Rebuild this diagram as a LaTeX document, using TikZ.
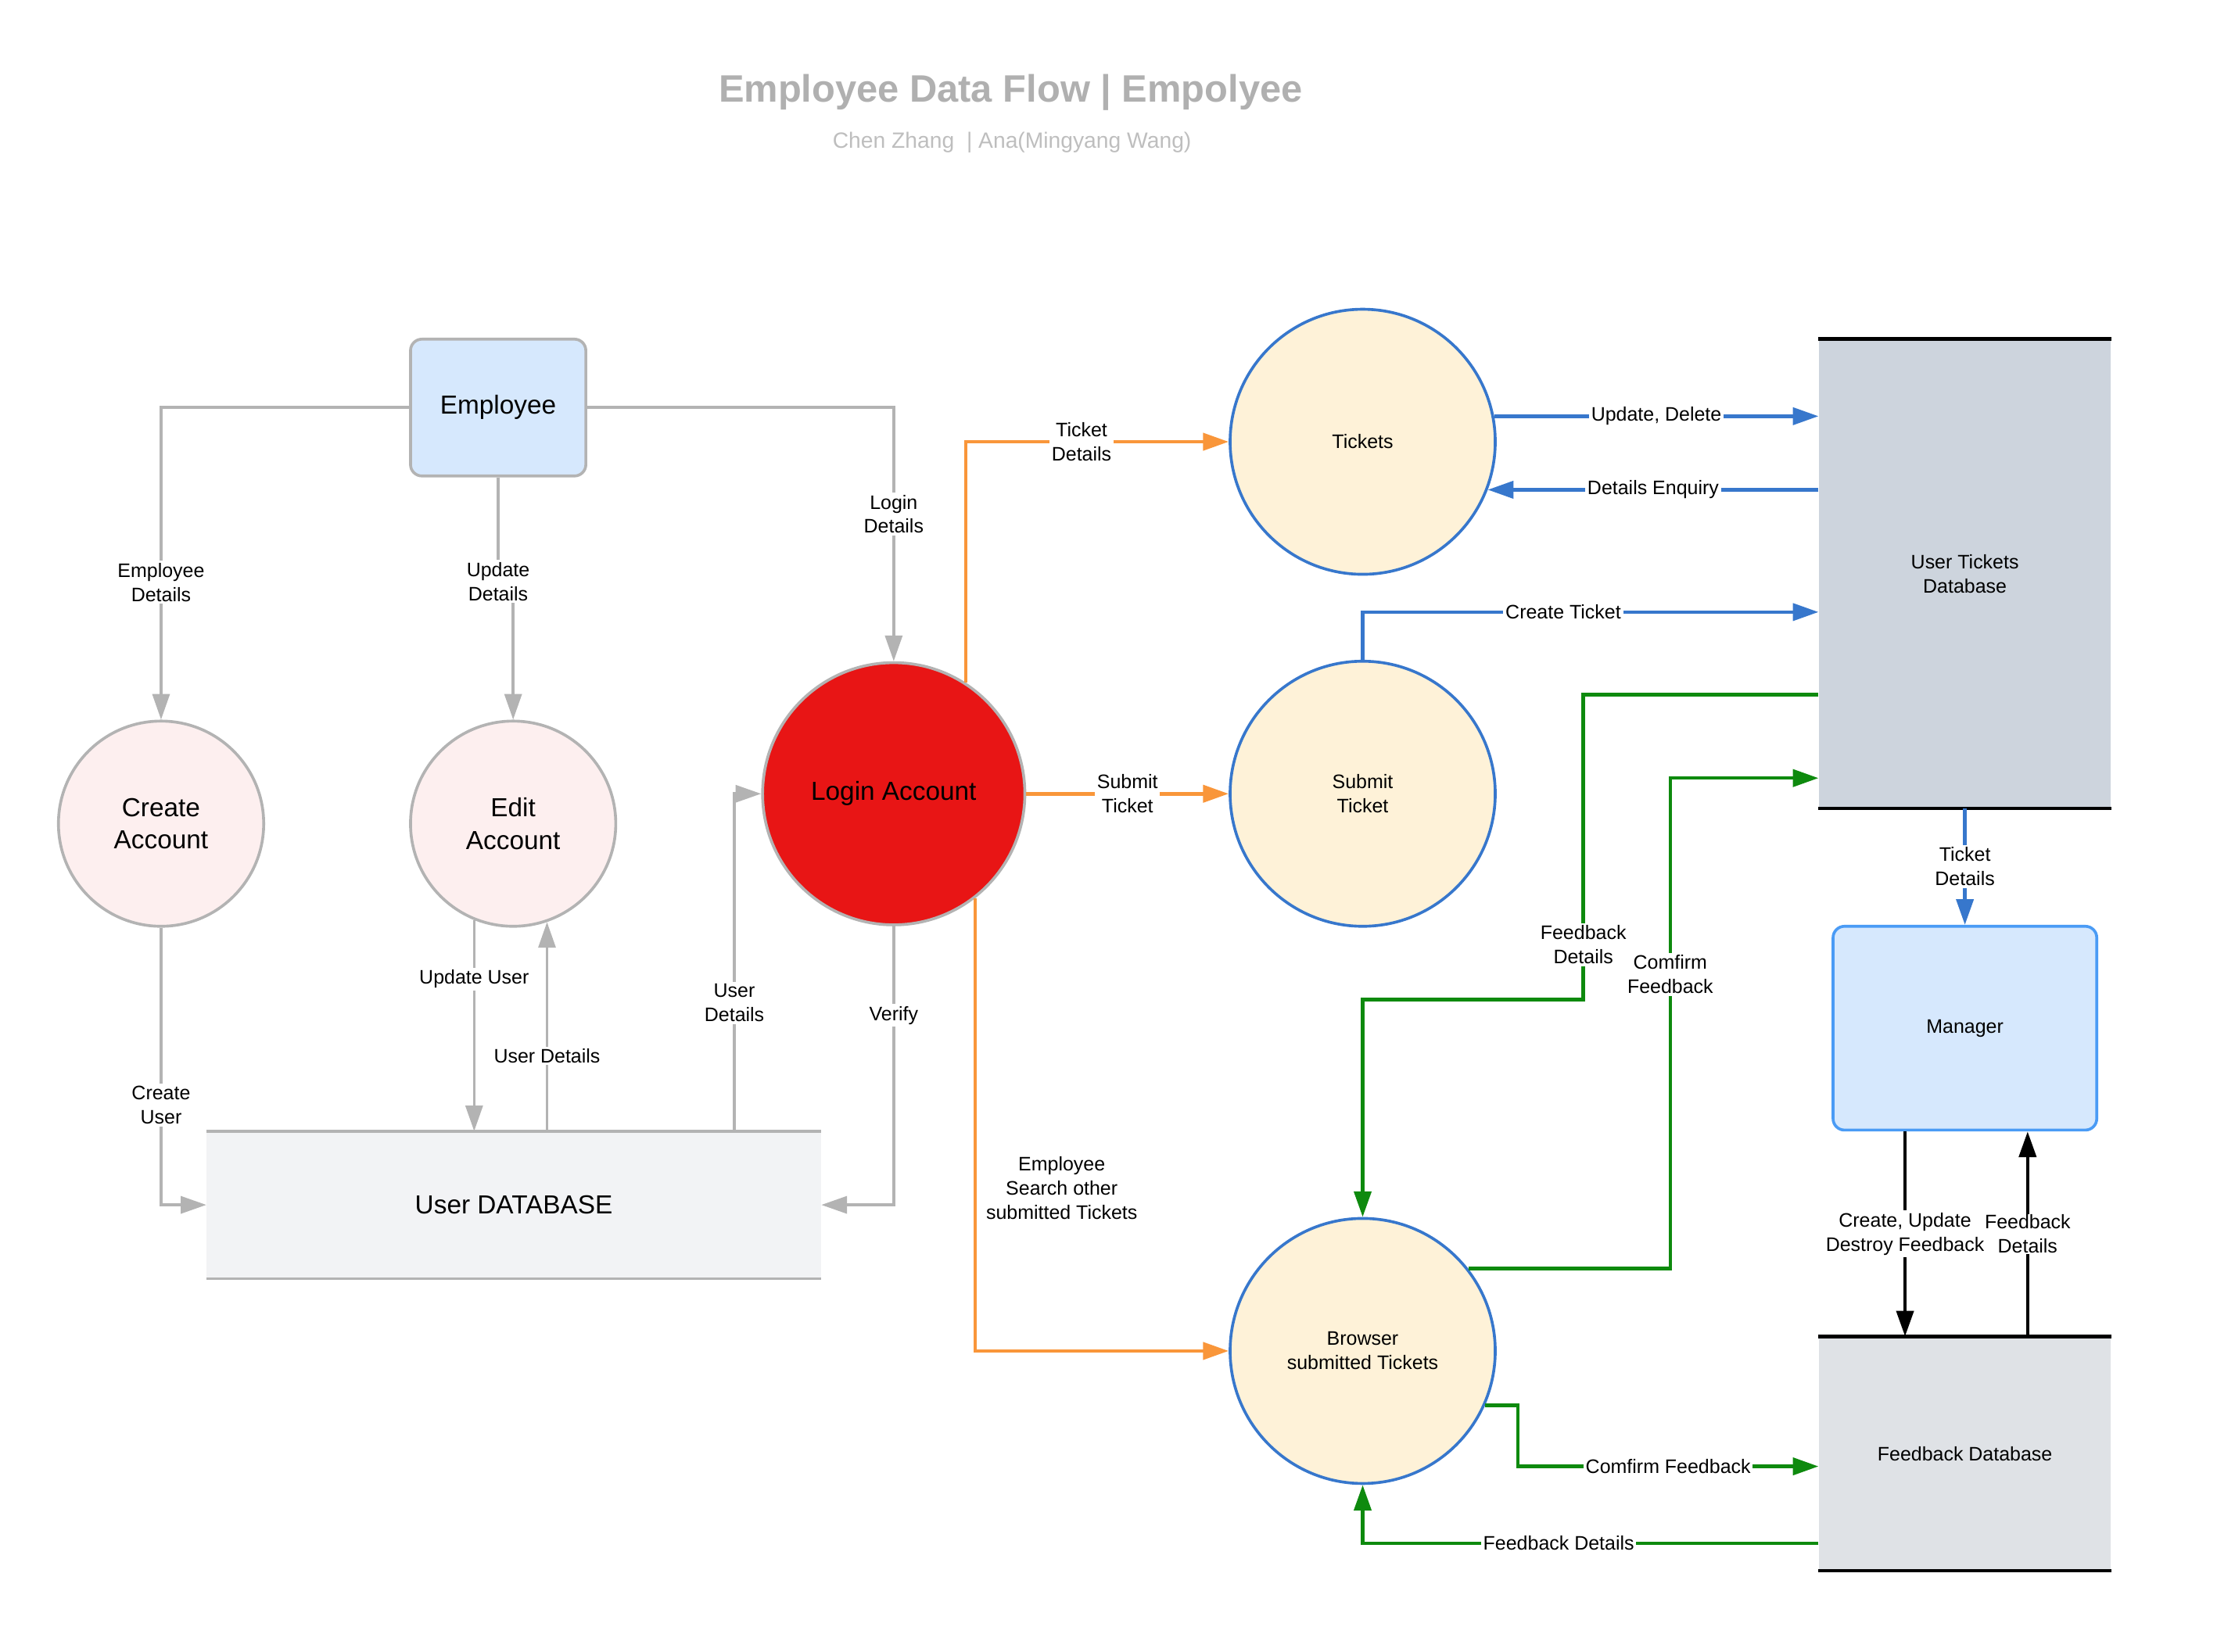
\documentclass[tikz,border=0pt]{standalone}
\usepackage{fontspec}
\setmainfont{Liberation Sans}
\usetikzlibrary{arrows.meta,calc}

\definecolor{lineGray}{HTML}{B3B3B3}
\definecolor{titleGray}{HTML}{B0B0B0}
\definecolor{subGray}{HTML}{BEBEBE}
\definecolor{actorFill}{HTML}{D6E8FD}
\definecolor{managerBlue}{HTML}{4A9BF5}
\definecolor{pinkFill}{HTML}{FDEFEF}
\definecolor{loginRed}{HTML}{E81515}
\definecolor{udbFill}{HTML}{F2F3F5}
\definecolor{ticketFill}{HTML}{FEF2D8}
\definecolor{ticketBlue}{HTML}{3777CC}
\definecolor{utdbFill}{HTML}{CDD4DD}
\definecolor{fdbFill}{HTML}{DFE2E6}
\definecolor{flowOrange}{HTML}{F9963A}
\definecolor{flowGreen}{HTML}{0E8A0E}

\begin{document}
\begin{tikzpicture}
    [
    x = 1pt, y = -1pt,
    every node/.style       = {font=\fontsize{13.7}{17}\selectfont, align=center},
    bigtext/.style          = {font=\fontsize{18.3}{23}\selectfont},
    actor/.style            = {rectangle, rounded corners=8pt, line width=2pt, fill=actorFill},
    userproc/.style         = {circle, draw=lineGray, line width=2pt, minimum size=144pt, inner sep=0pt, bigtext},
    ticketproc/.style       = {circle, draw=ticketBlue, line width=2pt, fill=ticketFill, minimum size=186pt, inner sep=0pt},
    store/.style            = {rectangle, inner sep=0pt},
    lbl/.style              = {fill=white, inner sep=1.5pt},
    flow/.style             = {line width=2pt, -{Triangle[length=18pt,width=12pt]}},
    grayflow/.style         = {flow, draw=lineGray},
    orangeflow/.style       = {flow, line width=2.5pt, draw=flowOrange},
    blueflow/.style         = {flow, line width=2.4pt, draw=ticketBlue},
    greenflow/.style        = {flow, line width=2.5pt, draw=flowGreen},
    blackflow/.style        = {flow, line width=2.5pt, draw=black}
    ]
    \useasboundingbox (0,0) rectangle (1568,1159);

    \node [font=\bfseries\fontsize{26.8}{32}\selectfont, text=titleGray] (title) at (709,65) {Employee Data Flow | Empolyee};
    \node [font=\fontsize{15.5}{19}\selectfont, text=subGray] (subtitle) at (710,100) {Chen Zhang~ | Ana(Mingyang Wang)};

    \node [actor, draw=lineGray, minimum width=123pt, minimum height=96pt, bigtext] (emp) at (349.5,286) {Employee};
    \node [userproc, fill=pinkFill] (create) at (113,578) {Create\\Account};
    \node [userproc, fill=pinkFill] (edit) at (360,578) {Edit\\Account};
    \node [userproc, fill=loginRed, minimum size=184pt] (login) at (627,557) {Login Account};
    \node [store, fill=udbFill, minimum width=431pt, minimum height=103pt, bigtext] (udb) at (360.5,845.5) {User DATABASE};
    \draw [lineGray, line width=2pt] (udb.north west) -- (udb.north east) (udb.south west) -- (udb.south east);

    \node [ticketproc] (tickets) at (956,310) {Tickets};
    \node [ticketproc] (submit) at (956,557) {Submit\\Ticket};
    \node [ticketproc] (browser) at (956,948) {Browser\\submitted Tickets};

    \node [store, fill=utdbFill, minimum width=205pt, minimum height=329pt] (utdb) at (1378.5,402.5) {User Tickets\\Database};
    \draw [black, line width=2.5pt] (utdb.north west) -- (utdb.north east) (utdb.south west) -- (utdb.south east);
    \node [actor, draw=managerBlue, minimum width=185pt, minimum height=143pt] (manager) at (1378.5,721.5) {Manager};
    \node [store, fill=fdbFill, minimum width=205pt, minimum height=164pt] (fdb) at (1378.5,1020) {Feedback Database};
    \draw [black, line width=2.5pt] (fdb.north west) -- (fdb.north east) (fdb.south west) -- (fdb.south east);

    \draw [grayflow] (emp.west) -| node [lbl, pos=0.78] {Employee\\Details} (create.north);
    \draw [grayflow] (emp.south) -- node [lbl, pos=1] {Update\\Details} ++(0,73) -| (edit.north);
    \draw [grayflow] (emp.east) -| node [lbl, pos=0.71] {Login\\Details} (login.north);
    \draw [grayflow] (create.south) |- node [lbl, pos=0.32] {Create\\User} (udb.west);
    \draw [grayflow] (edit.-112) -- node [lbl, pos=0.28] {Update User} (edit.-112 |- udb.north);
    \draw [grayflow] (edit.-71 |- udb.north) -- node [lbl, pos=0.36] {User Details} (edit.-71);
    \draw [grayflow] ($(udb.north east)+(-61,0)$) |- node [lbl, pos=0.19] {User\\Details} (login.west);
    \draw [grayflow] (login.south) |- node [lbl, pos=0.16] {Verify} (udb.east);

    \draw [orangeflow] (login.57) |- node [lbl, pos=0.72] {Ticket\\Details} (tickets.west);
    \draw [orangeflow] (login.east) -- node [lbl] {Submit\\Ticket} (submit.west);
    \draw [orangeflow] (login.-52) |- node [right, pos=0.32, xshift=3pt] {Employee\\Search other\\submitted Tickets} (browser.west);

    \draw [blueflow] (tickets.11) -- node [lbl] {Update, Delete} (tickets.11 -| utdb.west);
    \draw [blueflow] (tickets.-21 -| utdb.west) -- node [lbl] {Details Enquiry} (tickets.-21);
    \draw [blueflow] (submit.north) |- node [lbl, pos=0.72] {Create Ticket} ($(utdb.west)+(0,27)$);
    \draw [blueflow] (utdb.south) -- node [lbl] {Ticket\\Details} (manager.north);

    \draw [greenflow] ($(utdb.west)+(0,85)$) -- ++(-165,0) -- node [lbl, pos=0.82] {Feedback\\Details} ++(0,214) -| (browser.north);
    \draw [greenflow] (browser.38) -| node [lbl, pos=0.8] {Comfirm\\Feedback} ($(utdb.west)+(-104,143.5)$) -- ($(utdb.west)+(0,143.5)$);
    \draw [greenflow] (browser.-24) -- ++(23,0) |- node [lbl, pos=0.75] {Comfirm Feedback} ($(fdb.west)+(0,9)$);
    \draw [greenflow] ($(fdb.west)+(0,63)$) -| node [lbl, pos=0.285] {Feedback Details} (browser.south);

    \draw [blackflow] ($(manager.south)+(-42,0)$) -- node [lbl] {Create, Update\\Destroy Feedback} ($(fdb.north)+(-42,0)$);
    \draw [blackflow] ($(fdb.north)+(44,0)$) -- node [lbl, inner sep=0.5pt] {Feedback\\Details} ($(manager.south)+(44,0)$);
\end{tikzpicture}
\end{document}
